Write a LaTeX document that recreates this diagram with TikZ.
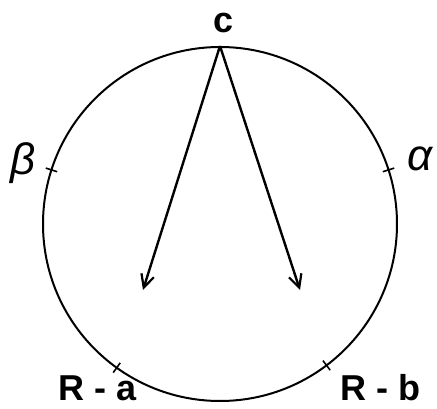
\documentclass[tikz,border=0pt]{standalone}
\usepackage{fontspec}
\setmainfont{Liberation Sans}
\usetikzlibrary{arrows.meta}
\begin{document}
\begin{tikzpicture}[x=1pt,y=1pt,
  lbl/.style={font=\fontsize{36}{40}\selectfont\bfseries, inner sep=0pt, text depth=0pt},
  greek/.style={font=\fontsize{44}{48}\selectfont\itshape, inner sep=0pt},
  ring/.style={draw, line width=2pt, circle, minimum size=354pt, inner sep=0pt},
  vec/.style={line width=2.4pt, -{Straight Barb[length=13pt,width=13pt,line width=2.2pt]}},
  tick/.style={line width=1.6pt}]
\useasboundingbox (0,0) rectangle (437,408);
\node[ring] (circ) at (220,184) {};
\node[lbl, anchor=base] (c) at (224,375) {c};
\node[lbl, anchor=base west] (ra) at (58,8) {R - a};
\node[lbl, anchor=base west] (rb) at (340,8) {R - b};
\node[greek] (beta) at (23,245) {β};
\node[greek] (alpha) at (420,249) {α};
\coordinate (tipa) at (143,118);
\coordinate (tipb) at (300,118);
\draw[vec] (circ.north) -- (tipa);
\draw[vec] (circ.north) -- (tipb);
\foreach \ang in {162.2, 17.8, 234.3, 307}{
  \draw[tick] (circ.center) ++(\ang:171) -- ++(\ang:12);
}
\end{tikzpicture}
\end{document}
